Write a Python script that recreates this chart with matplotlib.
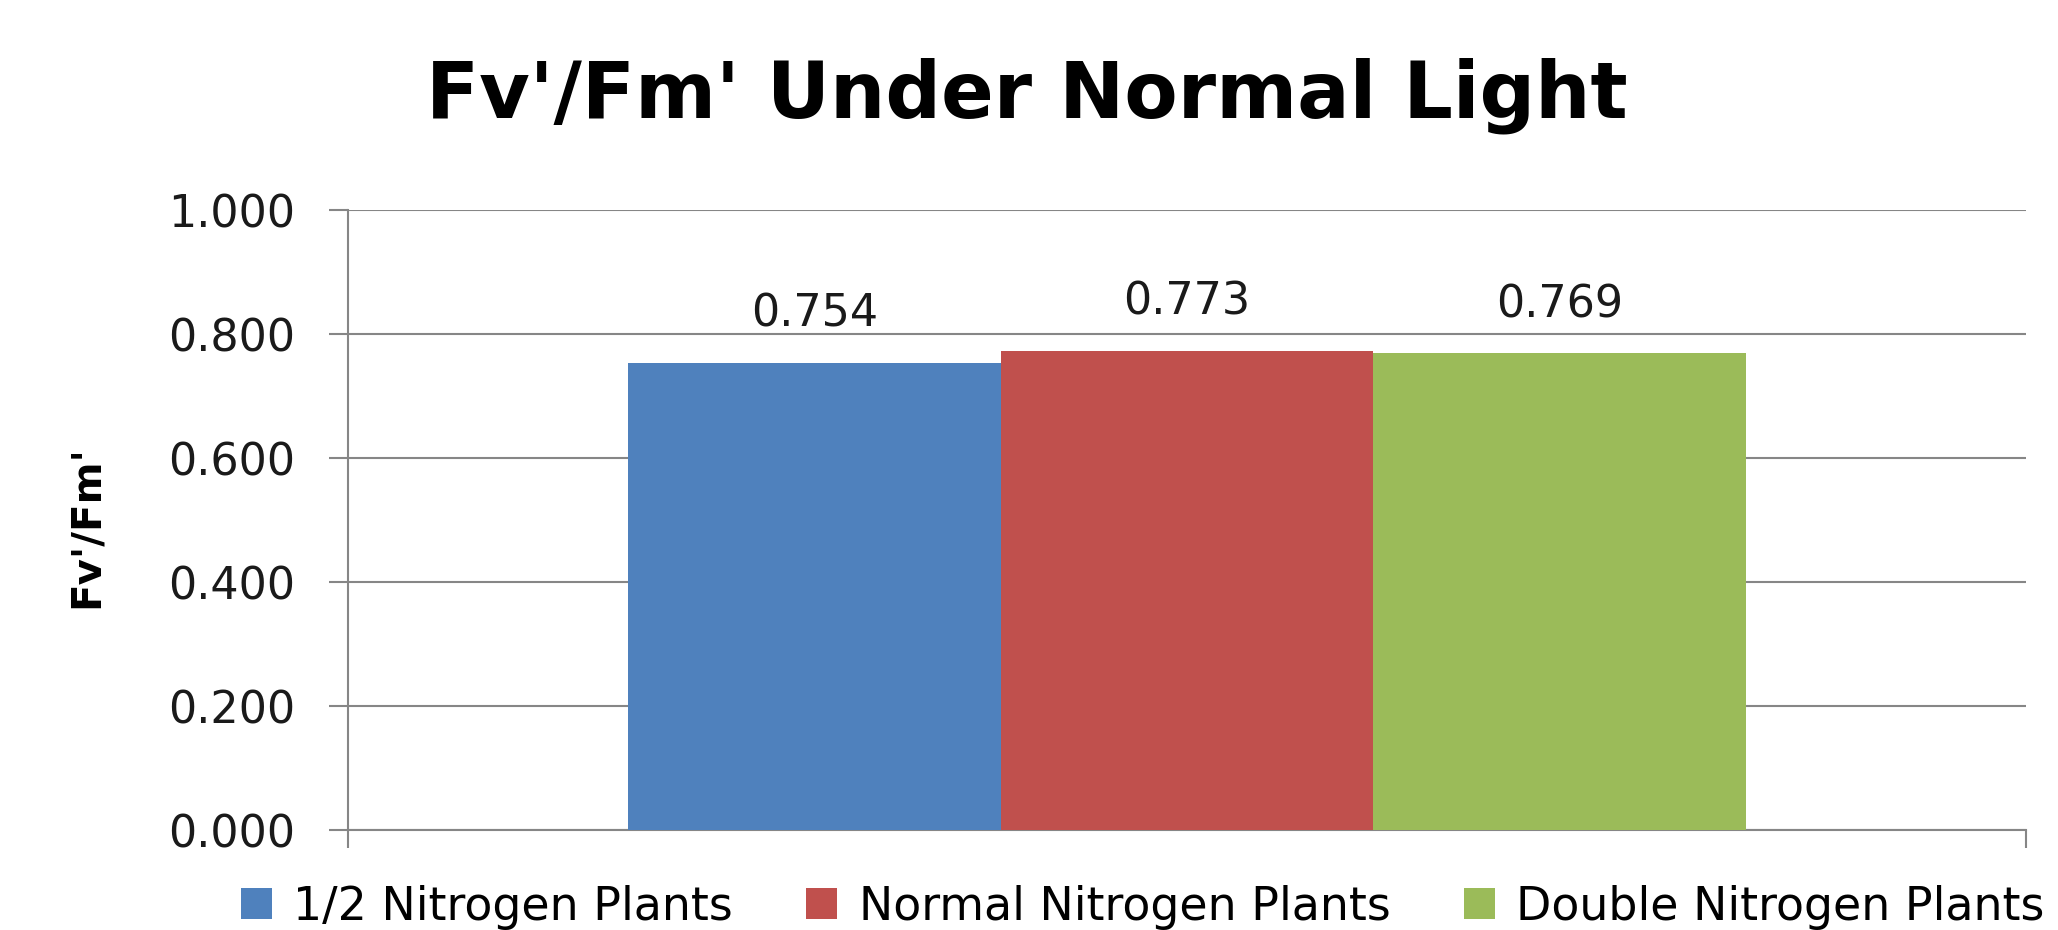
import matplotlib
matplotlib.use("Agg")
import matplotlib.pyplot as plt
from matplotlib.patches import Patch
import numpy as np

# ---- data ----
title = "Fv'/Fm' Under Normal Light"
ylabel = "Fv'/Fm'"
series = ["1/2 Nitrogen Plants", "Normal Nitrogen Plants", "Double Nitrogen Plants"]
values = [0.754, 0.773, 0.769]
colors = ["#4F81BD", "#C0504D", "#9BBB59"]
yticks = [0.0, 0.2, 0.4, 0.6, 0.8, 1.0]

W, H = 2058, 930
fig = plt.figure(figsize=(W / 100, H / 100), dpi=100)
plt.rcParams['font.family'] = ['DejaVu Sans']

left, right = 348 / W, 2026 / W
bottom, top = 1 - 830 / H, 1 - 210 / H
ax = fig.add_axes([left, bottom, right - left, top - bottom])

grid_col = "#868686"
bw = 0.222
offsets = [-bw, 0.0, bw]
for off, v, c, lab in zip(offsets, values, colors, series):
    ax.bar(off, v, width=bw, color=c, label=lab, zorder=3)
    ax.annotate(f"{v:.3f}", xy=(off, v), xytext=(0, 26), textcoords="offset points",
                ha="center", va="baseline", fontsize=32, color="#1a1a1a")

ax.set_xlim(-0.5, 0.5)
ax.set_ylim(0, 1.0)
ax.set_yticks(yticks)
ax.set_yticklabels([f"{t:.3f}" for t in yticks])
ax.set_xticks([-0.5, 0.5])
ax.set_xticklabels(["", ""])

ax.yaxis.grid(True, color=grid_col, linewidth=1.5, zorder=0)
ax.set_axisbelow(True)
for s in ["top", "right"]:
    ax.spines[s].set_visible(False)
for s in ["left", "bottom"]:
    ax.spines[s].set_color(grid_col)
    ax.spines[s].set_linewidth(1.5)
ax.tick_params(axis="y", direction="out", length=14, width=1.5, color=grid_col,
               labelsize=32, pad=24, labelcolor="#1a1a1a")
ax.tick_params(axis="x", direction="out", length=13, width=1.5, color=grid_col)

fig.text(0.499, 1 - 117 / H, title, ha="center", va="baseline",
         fontsize=56, fontweight="bold", color="black")
fig.text(87 / W, 1 - 527 / H, ylabel, rotation=90, ha="center", va="center",
         fontsize=29, fontweight="bold", color="black")

handles = [Patch(facecolor=c, edgecolor="none") for c in colors]
fig.legend(handles, series, loc="center left", bbox_to_anchor=(241 / W, 1 - 907 / H),
           ncol=3, frameon=False, fontsize=33, borderpad=0, borderaxespad=0,
           handlelength=0.68, handleheight=0.68, handletextpad=0.46, columnspacing=1.6)

fig.savefig("out.png", dpi=100)
